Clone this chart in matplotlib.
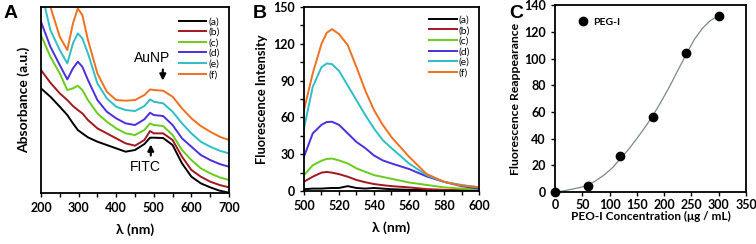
import matplotlib
matplotlib.use("Agg")
import matplotlib.pyplot as plt
from matplotlib.ticker import MultipleLocator

# ---- panel A: absorbance spectra (a.u.) ----
wl_abs = [200, 225, 250, 270, 285, 298, 310, 325, 350, 375, 400, 425, 450,
          475, 490, 500, 525, 550, 575, 600, 625, 650, 675, 700]
abs_a = [3.14, 2.89, 2.59, 2.34, 2.09, 1.89, 1.79, 1.67, 1.54, 1.44, 1.34, 1.24,
         1.29, 1.47, 1.66, 1.66, 1.65, 1.44, 0.89, 0.49, 0.29, 0.17, 0.07, 0.01]
abs_b = [3.69, 3.31, 2.99, 2.79, 2.61, 2.49, 2.39, 2.19, 1.94, 1.79, 1.64, 1.49,
         1.42, 1.59, 1.86, 1.79, 1.79, 1.59, 1.09, 0.69, 0.49, 0.34, 0.24, 0.17]
abs_c = [4.74, 4.09, 3.59, 3.09, 3.14, 3.22, 3.09, 2.79, 2.39, 2.14, 1.94, 1.79,
         1.74, 1.89, 2.09, 2.04, 2.01, 1.74, 1.29, 0.99, 0.74, 0.59, 0.47, 0.39]
abs_d = [5.14, 4.39, 3.84, 3.41, 3.74, 3.94, 3.79, 3.39, 2.79, 2.44, 2.24, 2.09,
         2.04, 2.21, 2.41, 2.34, 2.31, 2.04, 1.64, 1.39, 1.14, 0.99, 0.87, 0.79]
abs_e = [6.09, 4.89, 4.29, 3.89, 4.49, 4.79, 4.64, 4.19, 3.29, 2.84, 2.59, 2.49,
         2.46, 2.61, 2.81, 2.74, 2.69, 2.44, 2.09, 1.79, 1.54, 1.39, 1.27, 1.19]
abs_f = [6.69, 5.59, 4.69, 4.29, 5.09, 5.54, 5.34, 4.59, 3.59, 3.04, 2.79, 2.77,
         2.79, 2.94, 3.11, 3.09, 3.07, 2.89, 2.54, 2.24, 2.01, 1.84, 1.69, 1.59]

# ---- panel B: fluorescence spectra ----
wl_fl = [500, 505, 510, 513, 516, 520, 525, 530, 535, 540, 545, 550, 560, 570, 580, 590, 600]
fl_a = [1.5, 2.0, 2.0, 2.3, 2.5, 2.5, 4.0, 2.5, 2.0, 2.5, 2.0, 1.5, 1.0, 0.8, 0.5, 0.4, 0.3]
fl_b = [7.6, 11.7, 15.0, 15.6, 15.0, 13.8, 11.7, 9.0, 7.2, 5.7, 4.8, 4.0, 3.0, 1.6, 1.0, 0.7, 0.5]
fl_c = [13, 21, 24.7, 26.2, 26.5, 25, 22.5, 18.5, 15.7, 13, 11.5, 10, 7, 5, 3, 2, 1.4]
fl_d = [28, 47, 54, 56.3, 56.5, 54, 47, 40, 35, 29, 25, 22.5, 18, 12, 7.5, 4, 2]
fl_e = [51, 85, 101, 104, 103.5, 98, 86, 74, 62, 51, 41.5, 35, 22.5, 13, 7.5, 5, 3]
fl_f = [66, 96, 120, 129, 132, 128, 119, 101, 82, 66, 54, 44, 28, 14, 7.5, 4.5, 3.2]

# ---- panel C: fluorescence reappearance ----
conc = [0, 60, 120, 180, 240, 300]
reappear = [0, 4.5, 27, 56.5, 104, 132]
fit_x = [0, 15, 30, 45, 60, 75, 90, 105, 120, 135, 150, 165, 180, 195, 210,
         225, 240, 255, 270, 285, 300]
fit_y = [0, 0.8, 2, 3.3, 5, 8.5, 12.7, 18, 25, 32, 40, 48.5, 57.6, 68, 79,
         91, 102.6, 114, 122.5, 128.5, 132]

labels = ['(a)', '(b)', '(c)', '(d)', '(e)', '(f)']
colors = ['#000000', '#a3161e', '#69cc1c', '#4a2fe0', '#2fbec6', '#f07020']

plt.rcParams['font.family'] = ['Lato', 'DejaVu Sans']
plt.rcParams['axes.linewidth'] = 1.3
for k in ['xtick.major.width', 'ytick.major.width', 'xtick.minor.width', 'ytick.minor.width']:
    plt.rcParams[k] = 1.0
for k in ['xtick.major.size', 'ytick.major.size', 'xtick.minor.size', 'ytick.minor.size']:
    plt.rcParams[k] = 3

fig = plt.figure(figsize=(7.56, 2.44), dpi=100)

def style_ticks(ax):
    for lab in ax.get_xticklabels() + ax.get_yticklabels():
        lab.set_fontweight('bold')
        lab.set_fontsize(9)

# panel A
axA = fig.add_axes([0.0542, 0.209, 0.2487, 0.762])
for ys, lab, col in zip([abs_a, abs_b, abs_c, abs_d, abs_e, abs_f], labels, colors):
    axA.plot(wl_abs, ys, color=col, lw=1.4, label=lab)
axA.set_xlim(200, 700)
axA.set_ylim(0, 5.58)
axA.set_yticks([])
axA.xaxis.set_major_locator(MultipleLocator(100))
axA.xaxis.set_minor_locator(MultipleLocator(50))
axA.set_xlabel('λ (nm)', fontsize=10, fontweight='bold', labelpad=7)
axA.set_ylabel('Absorbance (a.u.)', fontsize=10, fontweight='bold', labelpad=8)
axA.legend(loc='upper right', bbox_to_anchor=(0.99, 0.985), frameon=False, fontsize=7.5,
           handlelength=2.6, handletextpad=0.2, labelspacing=0.12, borderpad=0.2)
axA.annotate('', xy=(524, 3.29), xytext=(524, 3.79),
             arrowprops=dict(arrowstyle='-|>', color='k', lw=1.5, mutation_scale=9))
axA.text(496, 4.04, 'AuNP', ha='center', va='center', fontsize=10, family='Liberation Sans')
axA.annotate('', xy=(492, 1.54), xytext=(492, 1.04),
             arrowprops=dict(arrowstyle='-|>', color='k', lw=1.5, mutation_scale=9))
axA.text(478, 0.79, 'FITC', ha='center', va='center', fontsize=10, family='Liberation Sans')
style_ticks(axA)

# panel B
axB = fig.add_axes([0.4021, 0.217, 0.2315, 0.754])
for ys, lab, col in zip([fl_a, fl_b, fl_c, fl_d, fl_e, fl_f], labels, colors):
    axB.plot(wl_fl, ys, color=col, lw=1.4, label=lab)
axB.set_xlim(500, 600)
axB.set_ylim(0, 150)
axB.xaxis.set_major_locator(MultipleLocator(20))
axB.xaxis.set_minor_locator(MultipleLocator(10))
axB.yaxis.set_major_locator(MultipleLocator(30))
axB.yaxis.set_minor_locator(MultipleLocator(15))
axB.set_xlabel('λ (nm)', fontsize=10, fontweight='bold', labelpad=7)
axB.set_ylabel('Fluorescence Intensity', fontsize=9.3, fontweight='bold', labelpad=4)
axB.legend(loc='upper right', bbox_to_anchor=(0.99, 0.995), frameon=False, fontsize=7.5,
           handlelength=2.6, handletextpad=0.2, labelspacing=0.12, borderpad=0.2)
style_ticks(axB)

# panel C
axC = fig.add_axes([0.7341, 0.2131, 0.2526, 0.766])
axC.plot(fit_x, fit_y, color='#7a8a8c', lw=0.9)
axC.plot(conc, reappear, 'o', color='k', ms=6, label='PEG-I', clip_on=False)
axC.set_xlim(0, 350)
axC.set_ylim(0, 140)
axC.xaxis.set_major_locator(MultipleLocator(50))
axC.yaxis.set_major_locator(MultipleLocator(20))
axC.tick_params(axis='x', pad=2)
axC.set_xlabel('PEO-I Concentration (μg / mL)', fontsize=8.5, fontweight='bold', labelpad=0)
axC.set_ylabel('Fluorescence Reappearance', fontsize=8.8, fontweight='bold', labelpad=2)
leg = axC.legend(loc='upper left', bbox_to_anchor=(0.06, 0.995), frameon=False,
                 handlelength=1.0, handletextpad=0.2, borderpad=0.2)
for t in leg.get_texts():
    t.set_fontsize(7.5)
    t.set_fontweight('bold')
style_ticks(axC)

# panel letters
for x, s in [(0.004, 'A'), (0.334, 'B'), (0.673, 'C')]:
    fig.text(x, 0.925, s, fontsize=14, fontweight='bold', family='Liberation Sans')

fig.savefig('out.png', dpi=100)
